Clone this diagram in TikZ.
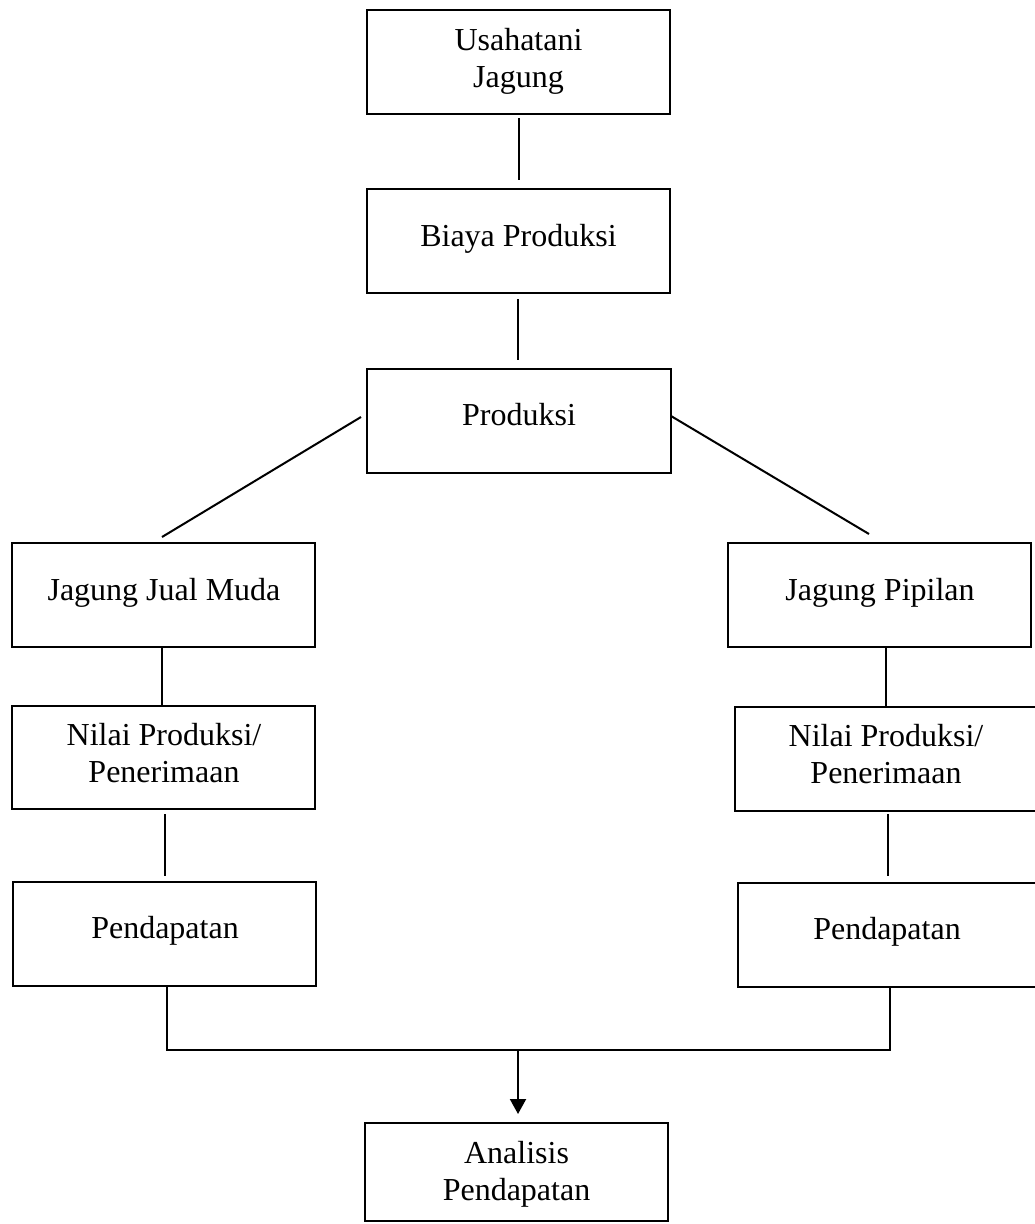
\documentclass[tikz,border=0pt]{standalone}
\usepackage{fontspec}
\setmainfont{Liberation Serif}
\usetikzlibrary{arrows.meta,calc}
\begin{document}
\begin{tikzpicture}[x=1pt,y=-1pt,
  box/.style={draw=black,line width=2pt,rectangle,inner sep=0pt,minimum width=303pt,minimum height=104pt},
  lbl/.style={font=\fontsize{32}{37}\selectfont,anchor=base,inner sep=0pt,align=center},
  conn/.style={draw=black,line width=2pt},
  arr/.style={conn,-{Triangle[width=16pt,length=15pt]}}]
\useasboundingbox (0,0) rectangle (1035,1224);
\fill[white] (0,0) rectangle (1035,1224);
% boxes
\node[box] (b1) at (518.5,62) {};
\node[box] (b2) at (518.5,241) {};
\node[box,minimum width=304pt] (b3) at (519,421) {};
\node[box] (l1) at (163.5,595) {};
\node[box,minimum height=103pt] (l2) at (163.5,757.5) {};
\node[box] (l3) at (164.5,934) {};
\node[box] (r1) at (879.5,595) {};
\node[box,minimum width=302pt] (r2) at (886,759) {};
\node[box,minimum width=299pt] (r3) at (887.5,935) {};
\node[box,minimum height=98pt] (an) at (516.5,1172) {};
% labels (base anchor = baseline of the last line)
\node[lbl] (t1) at (518.5,87) {Usahatani\\Jagung};
\node[lbl] (t2) at (518.5,246) {Biaya Produksi};
\node[lbl] (t3) at (519,425) {Produksi};
\node[lbl] (tl1) at (164,600) {Jagung Jual Muda};
\node[lbl] (tl2) at (164,782) {Nilai Produksi/\\Penerimaan};
\node[lbl] (tl3) at (165,938) {Pendapatan};
\node[lbl] (tr1) at (880,600) {Jagung Pipilan};
\node[lbl] (tr2) at (886,783) {Nilai Produksi/\\Penerimaan};
\node[lbl] (tr3) at (887,939) {Pendapatan};
\node[lbl] (tan) at (516.5,1200) {Analisis\\Pendapatan};
% connectors
\draw[conn] ($(b1.south)+(0.5,3)$) -- ($(b2.north)+(0.5,-8)$);
\draw[conn] ($(b2.south)+(-0.5,5)$) -- ($(b3.north)+(-1,-8)$);
\draw[conn] ($(b3.west)+(-5,-4)$) -- ($(l1.north)+(-1.5,-5)$);
\draw[conn] ($(b3.east)+(-1,-5)$) -- ($(r1.north)+(-10.5,-8)$);
\draw[conn] ($(l1.south)+(-1.5,0)$) -- ($(l2.north)+(-1.5,0)$);
\draw[conn] ($(l2.south)+(1.5,4)$) -- ($(l3.north)+(0.5,-5)$);
\draw[conn] ($(r1.south)+(6.5,0)$) -- ($(r2.north)+(0,0)$);
\draw[conn] ($(r2.south)+(2,2)$) -- ($(r3.north)+(0.5,-6)$);
\coordinate (j) at (518,1050);
\draw[conn] ($(l3.south)+(2.5,0)$) |- (j) -| ($(r3.south)+(2.5,0)$);
\draw[arr] (j) -- ($(an.north)+(1.5,-8)$);
\end{tikzpicture}
\end{document}
